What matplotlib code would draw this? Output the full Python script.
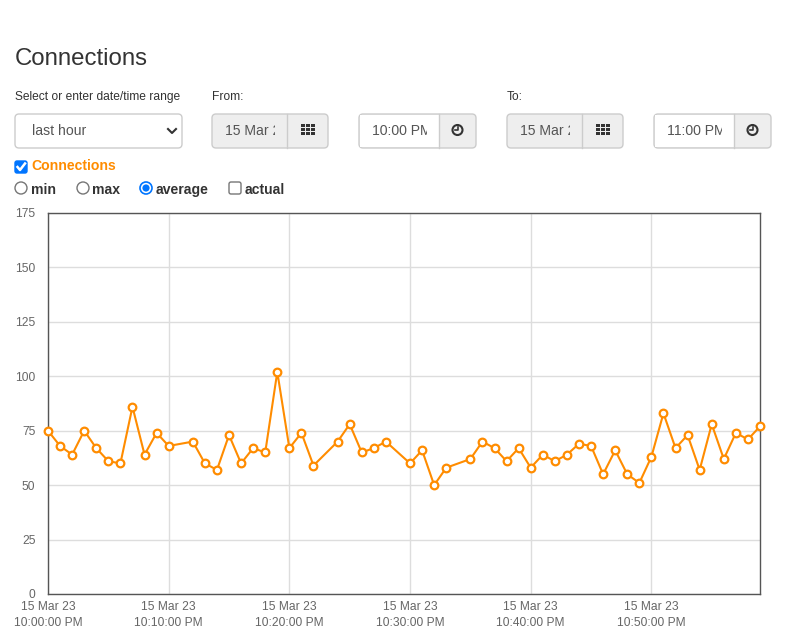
import matplotlib.pyplot as plt
from matplotlib.patches import FancyBboxPatch, Rectangle, Circle

plt.rcParams['font.family'] = ['Liberation Sans', 'DejaVu Sans']

# minutes after 10:00 PM and average connections
minutes = [0, 1, 2, 3, 4, 5, 6, 7, 8, 9, 10, 12, 13, 14, 15, 16, 17, 18, 19, 20,
           21, 22, 24, 25, 26, 27, 28, 30, 31, 32, 33, 35, 36, 37, 38, 39, 40, 41,
           42, 43, 44, 45, 46, 47, 48, 49, 50, 51, 52, 53, 54, 55, 56, 57, 58, 59]
values = [75, 68, 64, 75, 67, 61, 60, 86, 64, 74, 68, 70, 60, 57, 73, 60, 67, 65, 102, 67,
          74, 59, 70, 78, 65, 67, 70, 60, 66, 50, 58, 62, 70, 67, 61, 67, 58, 64,
          61, 64, 69, 68, 55, 66, 55, 51, 63, 83, 67, 73, 57, 78, 62, 74, 71, 77]

tick_minutes = [0, 10, 20, 30, 40, 50]
tick_labels = ['15 Mar 23\n10:00:00 PM', '15 Mar 23\n10:10:00 PM', '15 Mar 23\n10:20:00 PM',
               '15 Mar 23\n10:30:00 PM', '15 Mar 23\n10:40:00 PM', '15 Mar 23\n10:50:00 PM']
y_ticks = [0, 25, 50, 75, 100, 125, 150, 175]

orange = '#ff8c00'
W, H = 787, 634
fig = plt.figure(figsize=(W / 100, H / 100), dpi=100)

# page overlay in pixel coordinates
ui = fig.add_axes([0, 0, 1, 1])
ui.set_xlim(0, W)
ui.set_ylim(H, 0)
ui.axis('off')

def px(size):
    return size * 72 / 100

ui.text(15, 59, 'Connections', fontsize=px(24), color='#333333', va='center')

for x, s in [(15, 'Select or enter date/time range'), (212, 'From:'), (507, 'To:')]:
    ui.text(x, 97, s, fontsize=px(12), color='#333333', va='center')

def box(x, y, w, h, fc='white', ec='#cccccc'):
    p = FancyBboxPatch((x, y), w, h, boxstyle='round,pad=0,rounding_size=4',
                       fc=fc, ec=ec, lw=1)
    ui.add_patch(p)
    return p

# select box
box(15, 114, 167, 34)
ui.text(32, 131, 'last hour', fontsize=px(14), color='#555555', va='center')
ui.plot([168, 172, 176], [129, 133, 129], color='#333333', lw=1.5)

def grid_icon(cx, cy):
    for i in range(3):
        for j in range(3):
            ui.add_patch(Rectangle((cx - 7 + i * 5, cy - 6 + j * 4), 4, 3, fc='#333333', ec='none'))

def clock_icon(cx, cy):
    ui.add_patch(Circle((cx, cy), 5, fc='none', ec='#333333', lw=1.5))
    ui.plot([cx, cx, cx - 2.5], [cy - 3, cy, cy], color='#333333', lw=1.2)

def input_group(x, w, split, text, text_fc, icon):
    box(x, 114, w, 34, fc='#eeeeee')
    if text_fc == 'white':
        ui.add_patch(Rectangle((x + 1, 115), split - 1, 32, fc='white', ec='none'))
    ui.plot([x + split, x + split], [114, 148], color='#cccccc', lw=1)
    t = ui.text(x + 13, 131, text, fontsize=px(14), color='#555555', va='center')
    clip = Rectangle((x, 114), split - 12, 34, transform=ui.transData)
    t.set_clip_path(clip)
    t.set_clip_on(True)
    icon(x + split + (w - split) / 2, 130)

input_group(212, 116, 75, '15 Mar 2023', '#eeeeee', grid_icon)
input_group(359, 117, 80, '10:00 PM', 'white', clock_icon)
input_group(507, 116, 75, '15 Mar 2023', '#eeeeee', grid_icon)
input_group(654, 117, 80, '11:00 PM', 'white', clock_icon)

blue = '#0075ff'
# checked checkbox
ui.add_patch(FancyBboxPatch((15, 161), 12, 12, boxstyle='round,pad=0,rounding_size=2',
                            fc=blue, ec=blue, lw=1))
ui.plot([17.5, 20, 25], [167, 170, 163.5], color='white', lw=1.8)
ui.text(31, 166, 'Connections', fontsize=px(14), color=orange, fontweight='bold', va='center')

def radio(x, checked=False):
    if checked:
        ui.add_patch(Circle((x + 6, 188), 6, fc='white', ec=blue, lw=1.2))
        ui.add_patch(Circle((x + 6, 188), 3.6, fc=blue, ec='none'))
    else:
        ui.add_patch(Circle((x + 6, 188), 6, fc='white', ec='#767676', lw=1))

radio(15)
ui.text(31, 190, 'min', fontsize=px(14), color='#333333', fontweight='bold', va='center')
radio(77)
ui.text(92, 190, 'max', fontsize=px(14), color='#333333', fontweight='bold', va='center')
radio(140, checked=True)
ui.text(156, 190, 'average', fontsize=px(14), color='#333333', fontweight='bold', va='center')
ui.add_patch(FancyBboxPatch((229, 182), 12, 12, boxstyle='round,pad=0,rounding_size=2',
                            fc='white', ec='#767676', lw=1))
ui.text(245, 190, 'actual', fontsize=px(14), color='#333333', fontweight='bold', va='center')

# chart
ax = fig.add_axes([48 / W, (H - 594) / H, 712 / W, 381 / H])
ax.plot(minutes, values, color=orange, lw=1.5, marker='o', ms=5.5,
        mfc='white', mec=orange, mew=1.6, clip_on=False, zorder=3)
ax.set_xlim(0, 59)
ax.set_ylim(0, 175)
ax.set_xticks(tick_minutes)
ax.set_xticklabels(tick_labels)
ax.set_yticks(y_ticks)
ax.grid(True, color='#dddddd', lw=1)
ax.tick_params(length=0, labelsize=px(12), labelcolor='#666666')
ax.tick_params(axis='y', pad=9)
ax.tick_params(axis='x', pad=5)
for lab in ax.get_xticklabels():
    lab.set_linespacing(1.45)
for s in ax.spines.values():
    s.set_color('#555555')
    s.set_linewidth(1)

fig.savefig('out.png', dpi=100)
